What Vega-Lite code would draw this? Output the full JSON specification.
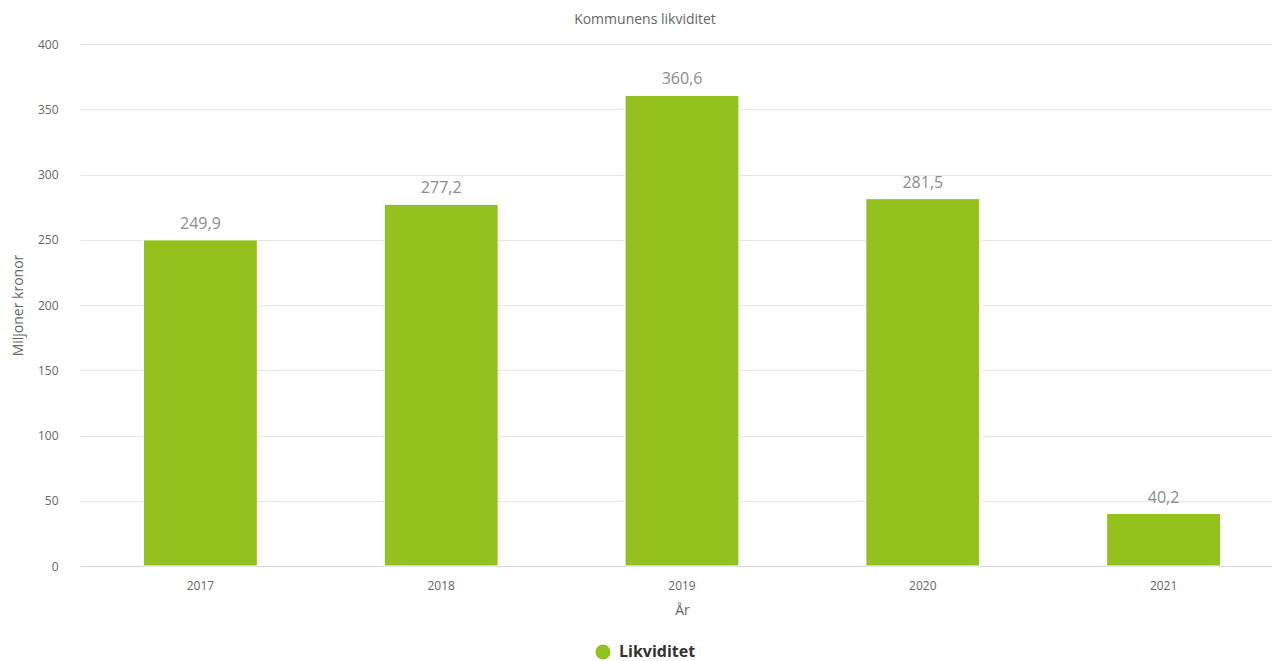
{
  "$schema": "https://vega.github.io/schema/vega-lite/v6.json",
  "width": 1204,
  "height": 522,
  "autosize": {"type": "none"},
  "padding": {"left": 80, "top": 44, "right": 0, "bottom": 95},
  "background": "#ffffff",
  "title": {"text": "Kommunens likviditet", "fontSize": 14, "fontWeight": "normal", "color": "#666666", "font": "Open Sans", "anchor": "middle", "offset": 11, "dx": -37},
  "data": {"values": [
    {"year": "2017", "value": 249.9, "serie": "Likviditet"},
    {"year": "2018", "value": 277.2, "serie": "Likviditet"},
    {"year": "2019", "value": 360.6, "serie": "Likviditet"},
    {"year": "2020", "value": 281.5, "serie": "Likviditet"},
    {"year": "2021", "value": 40.2, "serie": "Likviditet"}
  ]},
  "encoding": {
    "x": {"field": "year", "type": "nominal", "title": "År",
      "scale": {"paddingInner": 0.527, "paddingOuter": 0.2635},
      "axis": {"labelAngle": 0, "labelFontSize": 12, "labelColor": "#666666", "labelFont": "Open Sans", "titleFont": "Open Sans", "titleFontSize": 14, "titleFontWeight": "normal", "titleColor": "#666666", "domainColor": "#ccd6eb", "ticks": false, "labelPadding": 14, "titlePadding": 12, "grid": false}},
    "y": {"field": "value", "type": "quantitative", "title": "Miljoner kronor",
      "scale": {"domain": [0, 400]},
      "axis": {"values": [0, 50, 100, 150, 200, 250, 300, 350, 400], "labelFontSize": 12, "labelColor": "#666666", "labelFont": "Open Sans", "titleFont": "Open Sans", "titleFontSize": 14, "titleFontWeight": "normal", "titleColor": "#666666", "domain": false, "ticks": false, "gridColor": "#e6e6e6", "labelPadding": 22, "titlePadding": 12}}
  },
  "layer": [
    {"mark": {"type": "bar", "stroke": "#ffffff", "strokeWidth": 1},
     "encoding": {"color": {"field": "serie", "type": "nominal", "title": null,
       "scale": {"range": ["#95c11f"]},
       "legend": {"orient": "none", "legendX": 515, "legendY": 600, "padding": 0, "symbolType": "circle", "symbolSize": 230, "labelFontSize": 16, "labelFontWeight": "bold", "labelColor": "#333333", "labelFont": "Open Sans", "labelOffset": 8, "symbolStrokeWidth": 0}}}},
    {"mark": {"type": "text", "baseline": "bottom", "dy": -8, "fontSize": 16, "color": "#8c8c8c", "font": "Open Sans"},
     "encoding": {"text": {"field": "value", "type": "quantitative", "format": ".1f"}}}
  ],
  "config": {
    "view": {"stroke": null},
    "locale": {"number": {"decimal": ",", "thousands": " ", "grouping": [3], "currency": ["", " kr"]}}
  }
}
